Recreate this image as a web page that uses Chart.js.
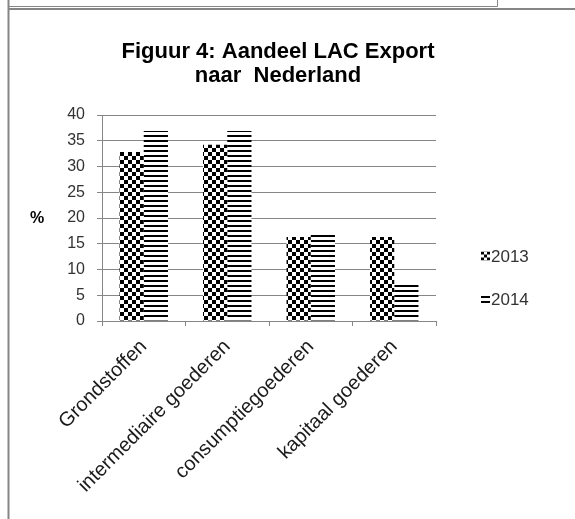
<!DOCTYPE html>
<html>
<head>
<meta charset="utf-8">
<script src="https://cdn.jsdelivr.net/npm/chart.js@4/dist/chart.umd.min.js"></script>
<style>
    html, body { margin: 0; padding: 0; background: #ffffff; }
    canvas { display: block; }
</style>
</head>
<body>
<canvas id="export-chart" width="575" height="519"></canvas>
<script>
const categories = ['Grondstoffen', 'intermediaire goederen', 'consumptiegoederen', 'kapitaal goederen'];
const seriesNames = ['2013', '2014'];
const values2013 = [32.8, 34.2, 16.3, 16.3];
const values2014 = [36.9, 36.9, 17.0, 7.1];
const yTicks = [0, 5, 10, 15, 20, 25, 30, 35, 40];
const titleLines = ['Figuur 4: Aandeel LAC Export', 'naar  Nederland'];
const axisLabel = '%';

const FONT = "'Liberation Sans', Arial, sans-serif";
const TEXT_COLOR = '#333333';
const LINE_COLOR = '#868686';

// checkerboard fill for 2013
function makeChecker() {
    const c = document.createElement('canvas');
    c.width = 8;
    c.height = 8;
    const g = c.getContext('2d');
    g.fillStyle = '#ffffff';
    g.fillRect(0, 0, 8, 8);
    g.fillStyle = '#000000';
    g.fillRect(0, 0, 4, 4);
    g.fillRect(4, 4, 4, 4);
    return g.createPattern(c, 'repeat');
}

// horizontal stripes for 2014
function makeStripes() {
    const c = document.createElement('canvas');
    c.width = 8;
    c.height = 5;
    const g = c.getContext('2d');
    g.fillStyle = '#ffffff';
    g.fillRect(0, 0, 8, 5);
    g.fillStyle = '#000000';
    g.fillRect(0, 0, 8, 2);
    return g.createPattern(c, 'repeat');
}

const ctx = document.getElementById('export-chart').getContext('2d');
const fills = [makeChecker(), makeStripes()];

// frame lines of the surrounding document cell
const framePlugin = {
    id: 'frame',
    beforeDraw(chart) {
        const c = chart.ctx;
        c.save();
        c.strokeStyle = LINE_COLOR;
        c.lineWidth = 1;
        c.beginPath();
        c.moveTo(8, 6.5);
        c.lineTo(497.5, 6.5);
        c.moveTo(497.5, 0);
        c.lineTo(497.5, 6.5);
        c.stroke();
        c.lineWidth = 2;
        c.beginPath();
        c.moveTo(8, 9);
        c.lineTo(575, 9);
        c.moveTo(8.5, 0);
        c.lineTo(8.5, 519);
        c.stroke();
        c.restore();
    }
};

// axis unit label and side legend
const extrasPlugin = {
    id: 'extras',
    afterDraw(chart) {
        const c = chart.ctx;
        const yScale = chart.scales.y;
        c.save();
        c.fillStyle = '#000000';
        c.font = 'bold 16px ' + FONT;
        c.textAlign = 'left';
        c.textBaseline = 'middle';
        c.fillText(axisLabel, 30, (yScale.top + yScale.bottom) / 2 + 1);

        const legendX = 481;
        const legendTop = 256;
        const legendGap = 43;
        chart.data.datasets.forEach((ds, i) => {
            const y = legendTop + i * legendGap;
            c.save();
            c.fillStyle = ds.backgroundColor;
            if (i === 0) {
                c.translate(legendX, y - 4.5);
                c.scale(0.75, 0.75);
                c.fillRect(0, 0, 12, 12);
            } else {
                c.translate(legendX, y - 3);
                c.fillRect(0, 0, 9, 7);
            }
            c.restore();
            c.fillStyle = TEXT_COLOR;
            c.font = '17px ' + FONT;
            c.textBaseline = 'middle';
            c.fillText(ds.label, legendX + 10, y + 1);
        });
        c.restore();
    }
};

const exportChart = new Chart(ctx, {
    type: 'bar',
    data: {
        labels: categories,
        datasets: [{
            label: seriesNames[0],
            data: values2013,
            backgroundColor: fills[0],
            borderWidth: 0,
            categoryPercentage: 0.58,
            barPercentage: 1.0
        }, {
            label: seriesNames[1],
            data: values2014,
            backgroundColor: fills[1],
            borderWidth: 0,
            categoryPercentage: 0.58,
            barPercentage: 1.0
        }]
    },
    options: {
        responsive: false,
        animation: false,
        layout: {
            padding: { left: 0, right: 19, top: 0, bottom: 0 }
        },
        plugins: {
            legend: { display: false },
            tooltip: { enabled: false },
            title: {
                display: true,
                text: titleLines,
                color: '#000000',
                font: { family: FONT, size: 22, weight: 'bold', lineHeight: 24 / 22 },
                padding: { top: 40, bottom: 27 }
            }
        },
        scales: {
            x: {
                offset: true,
                grid: {
                    offset: true,
                    drawOnChartArea: false,
                    color: LINE_COLOR,
                    tickLength: 5
                },
                border: { color: LINE_COLOR },
                ticks: {
                    color: '#1a1a1a',
                    font: { family: FONT, size: 20 },
                    autoSkip: false,
                    minRotation: 45,
                    maxRotation: 45,
                    padding: 9
                },
                afterFit: function (scale) {
                    scale.height = 198;
                }
            },
            y: {
                min: 0,
                max: 40,
                afterBuildTicks: function (scale) {
                    scale.ticks = yTicks.map(v => ({ value: v }));
                },
                grid: {
                    color: LINE_COLOR,
                    tickLength: 5
                },
                border: { color: LINE_COLOR },
                ticks: {
                    color: TEXT_COLOR,
                    font: { family: FONT, size: 16 },
                    padding: 12
                },
                afterFit: function (scale) {
                    scale.width = 102;
                }
            },
            spacer: {
                position: 'right',
                display: true,
                grid: { display: false },
                border: { display: false },
                ticks: { display: false },
                afterFit: function (scale) {
                    scale.width = 120;
                }
            }
        }
    },
    plugins: [framePlugin, extrasPlugin]
});
</script>
</body>
</html>
